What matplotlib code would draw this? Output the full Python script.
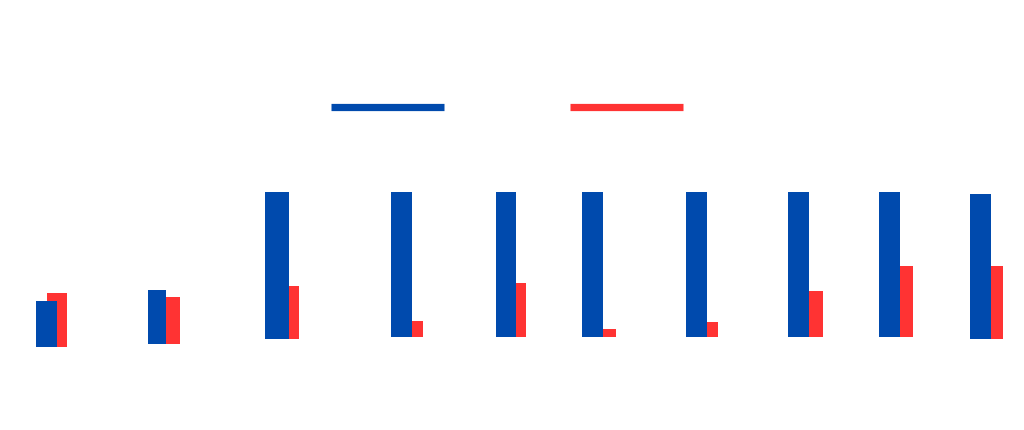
import numpy as np
import matplotlib.pyplot as plt
from matplotlib.lines import Line2D

# bar values (heights) and floating bottoms, arbitrary units
blue_vals = [31.8, 37.3, 101.6, 100, 100, 100, 100, 100, 100, 100.4]
red_vals = [37.1, 32.1, 37.0, 11.1, 37.3, 5.5, 10.2, 31.6, 48.9, 50.2]
bottoms = [-6.9, -4.6, -1.6, 0, 0, 0, 0, 0, 0, -1.4]

# numeric x positions of each category (left edge of the blue bar)
x_pos = [36, 147.7, 265, 390.7, 495.7, 582, 685.7, 787.7, 879, 970.3]
blue_w = [21, 18.7, 23.7, 21, 20.6, 21, 21, 21, 21, 20.7]
red_w = [19.4, 13.4, 10, 11, 10, 12.7, 11, 14, 13.3, 12]
red_overlap = [9.7, 0, 0, 0, 0, 0, 0, 0, 0, 0]

blue = '#004aad'
red = '#ff3333'

fig = plt.figure(figsize=(10.24, 4.3), dpi=100)
ax = fig.add_axes([0, 0, 1, 1])

x_pos = np.array(x_pos)
blue_w = np.array(blue_w)
red_x = x_pos + blue_w - np.array(red_overlap)

ax.bar(red_x, red_vals, width=red_w, bottom=bottoms, align='edge',
       color=red, zorder=2)
ax.bar(x_pos, blue_vals, width=blue_w, bottom=bottoms, align='edge',
       color=blue, zorder=3)

ax.set_xlim(0, 1024)
ax.set_ylim(-64.3, 232.9)
ax.axis('off')

handles = [Line2D([], [], color=blue, linewidth=5.2, solid_capstyle='butt'),
           Line2D([], [], color=red, linewidth=5.2, solid_capstyle='butt')]
fig.legend(handles, ['', ''], loc='center', bbox_to_anchor=(0.495, 0.75),
           ncol=2, frameon=False, handlelength=8.1, handletextpad=0,
           columnspacing=9.1)

fig.savefig('out.png', dpi=100)
